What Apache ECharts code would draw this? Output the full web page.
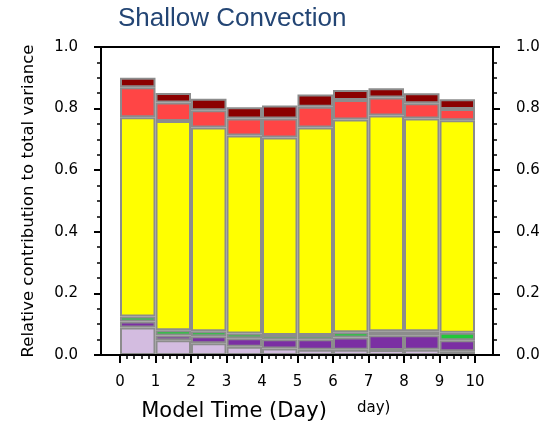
<!DOCTYPE html>
<html>
<head>
<meta charset="utf-8">
<script src="https://cdn.jsdelivr.net/npm/echarts@6/dist/echarts.min.js"></script>
<style>
  html, body { margin: 0; padding: 0; background: #fff; }
  #chart { width: 556px; height: 427px; }
</style>
</head>
<body>
<div id="chart"></div>
<script>
// data (segment heights, bottom to top)
var days = ['0.5', '1.5', '2.5', '3.5', '4.5', '5.5', '6.5', '7.5', '8.5', '9.5'];
var lightPurple = [0.089, 0.048, 0.038, 0.027, 0.021, 0.017, 0.017, 0.016, 0.017, 0.012];
var purple = [0.020, 0.015, 0.023, 0.027, 0.030, 0.034, 0.040, 0.048, 0.047, 0.036];
var green = [0.016, 0.017, 0.016, 0.016, 0.014, 0.014, 0.017, 0.013, 0.013, 0.024];
var yellow = [0.647, 0.680, 0.662, 0.643, 0.641, 0.674, 0.691, 0.701, 0.691, 0.690];
var red = [0.097, 0.060, 0.056, 0.055, 0.062, 0.067, 0.063, 0.058, 0.049, 0.037];
var darkRed = [0.031, 0.031, 0.037, 0.036, 0.042, 0.040, 0.032, 0.030, 0.033, 0.031];

var layers = [
  { name: 'lightPurple', data: lightPurple, color: '#d3bce0' },
  { name: 'purple', data: purple, color: '#7b2fa3' },
  { name: 'green', data: green, color: '#22c73a' },
  { name: 'yellow', data: yellow, color: '#ffff00' },
  { name: 'red', data: red, color: '#ff4545' },
  { name: 'darkRed', data: darkRed, color: '#8b0000' }
];

var font = 'Liberation Sans, Arial, sans-serif';
var tickFont = 'DejaVu Sans, sans-serif';
var chart = echarts.init(document.getElementById('chart'), null, { renderer: 'canvas' });

function yAxisOpt (pos, margin) {
  return {
    type: 'value',
    gridIndex: 0,
    position: pos,
    min: 0,
    max: 1,
    interval: 0.2,
    axisLine: { show: false },
    axisTick: { show: true, length: 7, lineStyle: { color: '#000', width: 2 } },
    minorTick: { show: true, splitNumber: 4, length: 4, lineStyle: { color: '#000', width: 1.5 } },
    splitLine: { show: false },
    axisLabel: {
      margin: margin,
      color: '#000',
      fontSize: 15,
      fontFamily: tickFont,
      formatter: function (v) { return v.toFixed(1); }
    }
  };
}

var series = layers.map(function (l) {
  return {
    name: l.name,
    type: 'bar',
    stack: 'all',
    xAxisIndex: 1,
    yAxisIndex: 2,
    barWidth: '100%',
    data: l.data,
    itemStyle: { color: l.color, borderColor: '#8c8c8c', borderWidth: 2 },
    silent: true
  };
});

var leftAxis = yAxisOpt('left', 23);
leftAxis.name = 'Relative contribution to total variance';
leftAxis.nameLocation = 'middle';
leftAxis.nameGap = 64;
leftAxis.nameTextStyle = { color: '#000', fontSize: 16.5, fontFamily: tickFont };

var option = {
  animation: false,
  backgroundColor: '#fff',
  title: {
    text: 'Shallow Convection',
    left: 113,
    top: 1,
    textStyle: { color: '#234574', fontSize: 26, fontWeight: 'normal', fontFamily: font }
  },
  grid: [
    { left: 101, right: 63, top: 47, bottom: 72, show: true, borderColor: '#000', borderWidth: 2, backgroundColor: 'transparent', z: 5 },
    { left: 120, width: 355, top: 47, bottom: 72 },
    { left: 120, width: 355, top: 47, bottom: 72 }
  ],
  xAxis: [
    { type: 'value', gridIndex: 0, show: false, min: 0, max: 1 },
    {
      type: 'category', gridIndex: 1, data: days, boundaryGap: true,
      axisLine: { show: false }, axisTick: { show: false }, axisLabel: { show: false }
    },
    {
      type: 'value', gridIndex: 2, min: 0, max: 10, interval: 1,
      axisLine: { show: false },
      axisTick: { show: true, length: 8, lineStyle: { color: '#000', width: 2 } },
      minorTick: { show: true, splitNumber: 5, length: 4, lineStyle: { color: '#000', width: 1.5 } },
      splitLine: { show: false },
      axisLabel: { margin: 20, color: '#000', fontSize: 15, fontFamily: tickFont }
    }
  ],
  yAxis: [
    leftAxis,
    yAxisOpt('right', 23),
    { type: 'value', gridIndex: 1, min: 0, max: 1, show: false },
    { type: 'value', gridIndex: 2, min: 0, max: 1, show: false }
  ],
  graphic: [
    {
      type: 'text', x: 234, y: 412,
      style: {
        text: 'Model Time (Day)', fill: '#000', fontSize: 21, fontFamily: tickFont,
        align: 'center', verticalAlign: 'middle'
      }
    },
    {
      type: 'text', x: 357, y: 408,
      style: {
        text: 'day)', fill: '#000', fontSize: 15, fontFamily: tickFont,
        align: 'left', verticalAlign: 'middle'
      }
    }
  ],
  series: series
};

chart.setOption(option);
</script>
</body>
</html>
